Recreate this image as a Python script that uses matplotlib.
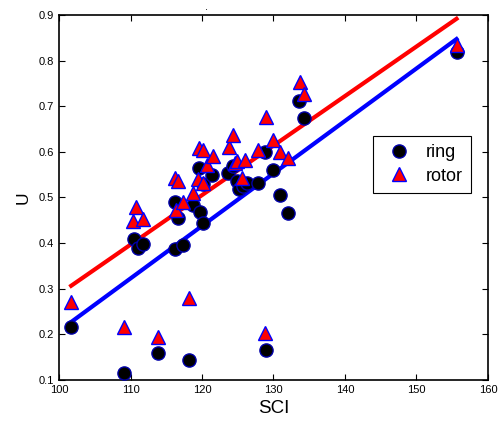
import numpy as np
import matplotlib
matplotlib.use('Agg')
import matplotlib.pyplot as plt

plt.rcParams['font.family'] = ['Liberation Sans', 'DejaVu Sans']

# dados (SCI x U)
sci_ring = [101.7, 109.1, 110.5, 111.0, 111.8, 113.9, 116.2, 116.2, 116.7, 117.4,
            118.2, 118.8, 119.6, 119.7, 120.1, 120.2, 121.4, 123.7, 124.4, 124.9,
            125.2, 125.8, 126.3, 127.9, 128.8, 129.0, 130.0, 130.9, 132.0, 133.6,
            134.3, 155.6]
u_ring = [0.217, 0.115, 0.410, 0.389, 0.397, 0.160, 0.387, 0.491, 0.455, 0.396,
          0.143, 0.484, 0.564, 0.469, 0.445, 0.530, 0.550, 0.553, 0.568, 0.535,
          0.518, 0.524, 0.531, 0.531, 0.600, 0.165, 0.560, 0.506, 0.467, 0.712,
          0.674, 0.818]

sci_rotor = [101.7, 109.1, 110.4, 110.8, 111.7, 113.8, 116.2, 116.4, 116.6, 117.3,
             118.2, 118.8, 119.6, 120.2, 119.5, 120.2, 120.7, 121.6, 123.8, 124.4,
             124.6, 124.9, 125.6, 126.0, 127.9, 128.9, 128.8, 130.0, 130.9, 132.0,
             133.7, 134.3, 155.6]
u_rotor = [0.270, 0.217, 0.449, 0.480, 0.453, 0.195, 0.542, 0.473, 0.535, 0.491,
           0.279, 0.510, 0.608, 0.604, 0.540, 0.531, 0.571, 0.590, 0.610, 0.637,
           0.575, 0.579, 0.542, 0.582, 0.604, 0.677, 0.203, 0.626, 0.600, 0.586,
           0.754, 0.727, 0.834]

# retas de regressao linear, do menor ao maior SCI
p_ring = np.polyfit(sci_ring, u_ring, 1)
p_rotor = np.polyfit(sci_rotor, u_rotor, 1)
x_ring = np.array([min(sci_ring), max(sci_ring)])
x_rotor = np.array([min(sci_rotor), max(sci_rotor)])

fig = plt.figure(figsize=(5.01, 4.26), dpi=100)
ax = fig.add_axes([0.1178, 0.108, 0.8562, 0.8570])

ax.plot(x_rotor, np.polyval(p_rotor, x_rotor), color='red', lw=3, zorder=2)
ax.plot(x_ring, np.polyval(p_ring, x_ring), color='blue', lw=3, zorder=2)
ax.plot(sci_ring, u_ring, 'o', ms=9.5, mfc='black', mec='#0000aa', mew=1,
        label='ring', zorder=3)
ax.plot(sci_rotor, u_rotor, '^', ms=10, mfc='red', mec='blue', mew=1,
        label='rotor', zorder=4)

ax.set_xlim(100, 160)
ax.set_ylim(0.1, 0.9)
ax.set_xticks(np.arange(100, 161, 10))
ax.set_yticks(np.arange(0.1, 0.91, 0.1))
ax.set_yticklabels(['0.1', '0.2', '0.3', '0.4', '0.5', '0.6', '0.7', '0.8', '0.9'])
ax.tick_params(direction='in', top=True, right=True, labelsize=8, length=4)
ax.set_xlabel('SCI', fontsize=13.5, labelpad=4)
ax.set_ylabel('U', fontsize=12.5, labelpad=6)
for s in ax.spines.values():
    s.set_linewidth(1.2)

leg = ax.legend(loc='upper left', bbox_to_anchor=(0.731, 0.668), fontsize=13,
                fancybox=False, edgecolor='black', framealpha=1, borderaxespad=0,
                handletextpad=0.5, borderpad=0.45, labelspacing=0.35)
leg.get_frame().set_linewidth(0.8)

fig.text(207 / 501, 1 - 7 / 426, '.', ha='center', va='center', fontsize=8)

plt.savefig('out.png', dpi=100)
